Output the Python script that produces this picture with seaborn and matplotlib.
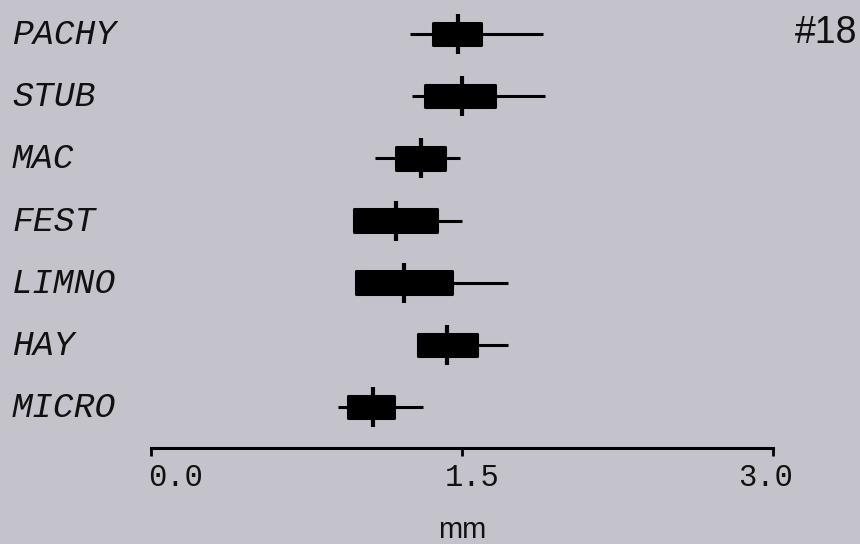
import numpy as np
import pandas as pd
import matplotlib
matplotlib.use("Agg")
import matplotlib.pyplot as plt
import matplotlib.transforms as mtransforms
import seaborn as sns

# Five-number summaries (mm) for each group
categories = ["PACHY", "STUB", "MAC", "FEST", "LIMNO", "HAY", "MICRO"]
low = [1.25, 1.26, 1.08, 0.98, 0.99, 1.29, 0.90]
q1 = [1.36, 1.32, 1.18, 0.98, 0.99, 1.29, 0.95]
median = [1.48, 1.50, 1.30, 1.18, 1.22, 1.43, 1.07]
q3 = [1.59, 1.66, 1.42, 1.38, 1.45, 1.57, 1.17]
high = [1.89, 1.90, 1.49, 1.50, 1.72, 1.72, 1.31]

x_ticks = [0.0, 1.5, 3.0]
x_tick_labels = ["0.0", "1.5", "3.0"]

# Long-form table: the five summary values per group reproduce the
# quartiles exactly and, with unlimited whiskers, the extremes too.
rows = []
for i, cat in enumerate(categories):
    for v in (low[i], q1[i], median[i], q3[i], high[i]):
        rows.append({"group": cat, "mm": v})
df = pd.DataFrame(rows)

bg = "#c4c3cb"
ink = "#111111"
sns.set_theme(style="white", rc={"figure.facecolor": bg, "axes.facecolor": bg})
plt.rcParams["font.family"] = ["DejaVu Sans"]
mono = ["Liberation Mono", "DejaVu Sans Mono"]
narrow = ["Liberation Sans Narrow", "Liberation Sans", "DejaVu Sans"]

W, H = 860, 544
fig = plt.figure(figsize=(W / 100, H / 100), dpi=100)
ax = fig.add_axes([151 / W, 1 - 448 / H, (773 - 151) / W, 448 / H])
ax.set_facecolor(bg)

sns.boxplot(
    data=df, x="mm", y="group", order=categories, orient="h",
    whis=np.inf, width=0.36, color="black", linecolor="black",
    saturation=1, showcaps=False, fliersize=0, linewidth=2.2, ax=ax,
    boxprops=dict(joinstyle="round"),
    medianprops=dict(color="black"),
)

# Median ticks that cross the box
sns.scatterplot(
    x=median, y=np.arange(len(categories)), marker="|", s=830,
    linewidth=3, color="black", legend=False, ax=ax, zorder=5,
)

ax.set_xlim(0, 3)
ax.set_ylim(6.659, -0.547)
ax.set_xlabel("")
ax.set_ylabel("")
for side in ("left", "top", "right"):
    ax.spines[side].set_visible(False)
ax.spines["bottom"].set_color("black")
ax.spines["bottom"].set_linewidth(2.2)

# x ticks, with typewriter-style labels set just below them
ax.set_xticks(x_ticks)
ax.set_xticklabels([])
ax.tick_params(axis="x", direction="out", length=6, width=2, colors="black",
               bottom=True)
x_label_trans = mtransforms.blended_transform_factory(ax.transData, fig.transFigure)
for val, txt, ha, dx in zip(x_ticks, x_tick_labels,
                            ["left", "center", "center"], [-3, 10, -8]):
    ax.text(val, 1 - 478 / H, txt, ha=ha, va="center", fontsize=22,
            family=mono, color=ink, clip_on=False,
            transform=x_label_trans + mtransforms.ScaledTranslation(
                dx / 100, 0, fig.dpi_scale_trans))

# Group names at the left, caps centred on each row
ax.set_yticks(np.arange(len(categories)))
ax.set_yticklabels([])
ax.tick_params(axis="y", length=0)
y_label_trans = mtransforms.blended_transform_factory(fig.transFigure, ax.transData)
for i, cat in enumerate(categories):
    ax.text(12 / W, i, cat, ha="left", va="baseline", fontsize=25,
            family=mono, style="italic", color=ink, clip_on=False,
            transform=y_label_trans + mtransforms.ScaledTranslation(
                0, -10 / 100, fig.dpi_scale_trans))

fig.text(462 / W, 1 - 530 / H, "mm", ha="center", va="center",
         fontsize=21, color=ink, family=narrow)
fig.text(857 / W, 1 - 43 / H, "#18", ha="right", va="baseline",
         fontsize=27, color=ink, family=narrow)

fig.savefig("out.png", dpi=100, facecolor=bg)
